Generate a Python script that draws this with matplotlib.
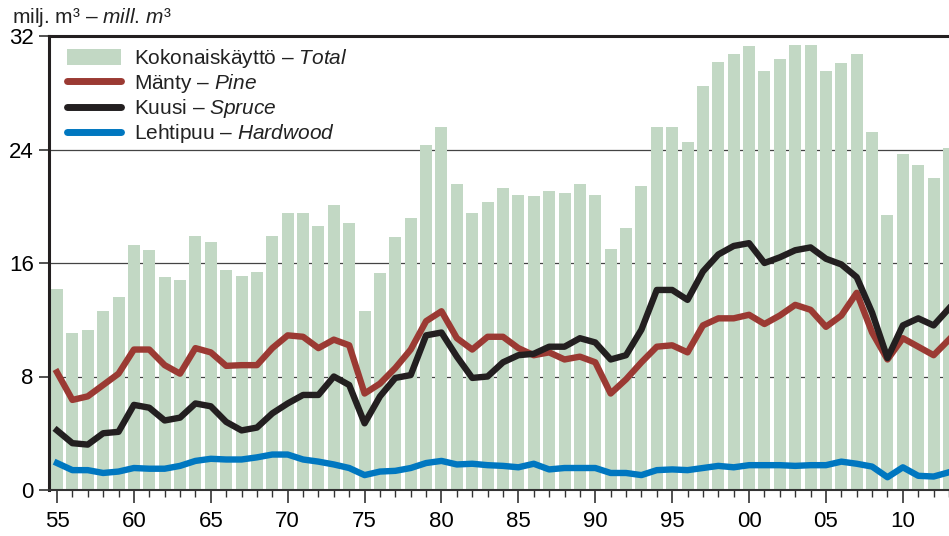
#!/usr/bin/env python3

"""
Puun käyttö 1955-2013, kokonaiskäyttö ja puulajit
"""

import matplotlib
matplotlib.use('Agg')
import matplotlib.pyplot as plt
from matplotlib.patches import Patch
from matplotlib.lines import Line2D
from matplotlib import ticker

years = list(range(1955, 2014))

total = [14.2, 11.1, 11.3, 12.6, 13.6, 17.3, 16.9, 15.0, 14.8, 17.9,
         17.5, 15.5, 15.1, 15.4, 17.9, 19.5, 19.5, 18.6, 20.1, 18.8,
         12.6, 15.3, 17.8, 19.2, 24.3, 25.6, 21.6, 19.5, 20.3, 21.3,
         20.8, 20.7, 21.1, 20.9, 21.6, 20.8, 17.0, 18.5, 21.4, 25.6,
         25.6, 24.5, 28.5, 30.2, 30.7, 31.3, 29.5, 30.4, 31.4, 31.4,
         29.5, 30.1, 30.7, 25.2, 19.4, 23.7, 22.9, 22.0, 24.1]

pine = [8.3, 6.35, 6.6, 7.4, 8.2, 9.9, 9.9, 8.8, 8.2, 10.0,
        9.7, 8.75, 8.8, 8.8, 10.0, 10.9, 10.8, 10.0, 10.6, 10.2,
        6.8, 7.5, 8.6, 9.9, 11.9, 12.6, 10.7, 9.9, 10.8, 10.8,
        10.0, 9.5, 9.7, 9.2, 9.4, 9.0, 6.8, 7.8, 9.0, 10.1,
        10.2, 9.7, 11.6, 12.1, 12.1, 12.35, 11.7, 12.3, 13.05, 12.7,
        11.5, 12.3, 13.9, 11.1, 9.2, 10.7, 10.1, 9.5, 10.6]

spruce = [4.2, 3.3, 3.2, 4.0, 4.1, 6.0, 5.8, 4.9, 5.1, 6.1,
          5.9, 4.8, 4.2, 4.4, 5.4, 6.1, 6.7, 6.7, 8.0, 7.4,
          4.7, 6.6, 7.9, 8.1, 10.9, 11.1, 9.4, 7.9, 8.0, 9.0,
          9.5, 9.6, 10.1, 10.1, 10.7, 10.4, 9.2, 9.5, 11.3, 14.1,
          14.1, 13.4, 15.4, 16.6, 17.2, 17.4, 16.0, 16.4, 16.9, 17.1,
          16.3, 15.9, 15.0, 12.5, 9.3, 11.6, 12.1, 11.6, 12.8]

hardwood = [1.9, 1.4, 1.4, 1.2, 1.3, 1.55, 1.5, 1.5, 1.7, 2.05,
            2.2, 2.15, 2.15, 2.3, 2.5, 2.5, 2.15, 2.0, 1.8, 1.55,
            1.05, 1.3, 1.35, 1.55, 1.9, 2.05, 1.8, 1.85, 1.75, 1.7,
            1.6, 1.85, 1.45, 1.55, 1.55, 1.55, 1.2, 1.2, 1.05, 1.4,
            1.45, 1.4, 1.55, 1.7, 1.6, 1.75, 1.75, 1.75, 1.7, 1.75,
            1.75, 2.0, 1.85, 1.65, 0.9, 1.6, 1.0, 0.95, 1.25]

yticks = [0, 8, 16, 24, 32]
xticks = [1955, 1960, 1965, 1970, 1975, 1980, 1985, 1990, 1995, 2000, 2005, 2010]
xtick_labels = ['55', '60', '65', '70', '75', '80', '85', '90', '95', '00', '05', '10']

BAR = '#c2d8c4'
RED = '#9b3a33'
BLACK = '#231f20'
BLUE = '#0077c0'


def main():
    plt.rcParams['font.family'] = ['Liberation Sans', 'DejaVu Sans']
    plt.rcParams['font.size'] = 15
    plt.rcParams['mathtext.fontset'] = 'custom'
    plt.rcParams['mathtext.rm'] = 'Liberation Sans'
    plt.rcParams['mathtext.it'] = 'Liberation Sans:italic'

    fig = plt.figure(figsize=(9.49, 5.36), dpi=100)
    ax = fig.add_axes([49 / 949, 46 / 536, 1 - 49 / 949, (490 - 36) / 536])

    ax.bar(years, total, width=0.78, color=BAR, zorder=1)
    lw = 4.6
    ax.plot(years, pine, color=RED, lw=lw, zorder=3, solid_joinstyle='round')
    ax.plot(years, spruce, color=BLACK, lw=lw, zorder=4, solid_joinstyle='round')
    ax.plot(years, hardwood, color=BLUE, lw=lw, zorder=3, solid_joinstyle='round')

    ax.set_xlim(1954.48, 2013.0)
    ax.set_ylim(0, 32)
    ax.set_yticks(yticks)
    ax.set_xticks(xticks)
    ax.set_xticklabels(xtick_labels)
    ax.xaxis.set_minor_locator(ticker.MultipleLocator(1))
    ax.tick_params(axis='x', which='major', direction='out', length=9, width=1.2,
                   color='#333333', pad=6, labelsize=16)
    ax.tick_params(axis='x', which='minor', direction='out', length=5, width=1.0,
                   color='#333333')
    ax.tick_params(axis='y', direction='out', length=7, width=1.2, color='#333333',
                   pad=4, labelsize=16)

    ax.grid(axis='y', color='#444444', lw=0.9, zorder=0)
    ax.set_axisbelow(True)

    for s in ['left', 'top']:
        ax.spines[s].set_linewidth(2.2)
        ax.spines[s].set_color(BLACK)
    ax.spines['bottom'].set_linewidth(1.5)
    ax.spines['bottom'].set_color('#333333')
    ax.spines['right'].set_visible(False)

    fig.text(12 / 949, 1 - 23 / 536, r'milj. m³ – $\mathit{mill.\,m³}$',
             va='baseline', ha='left', fontsize=15, color='#222222')

    handles = [Patch(facecolor=BAR, edgecolor='none'),
               Line2D([], [], color=RED, lw=5, solid_capstyle='round'),
               Line2D([], [], color=BLACK, lw=5, solid_capstyle='round'),
               Line2D([], [], color=BLUE, lw=5, solid_capstyle='round')]
    labels = [r'Kokonaiskäyttö – $\mathit{Total}$',
              r'Mänty – $\mathit{Pine}$',
              r'Kuusi – $\mathit{Spruce}$',
              r'Lehtipuu – $\mathit{Hardwood}$']
    leg = ax.legend(handles, labels, loc='upper left', bbox_to_anchor=(0.004, 1.008),
                    frameon=False, handlelength=2.6, handleheight=0.8,
                    handletextpad=0.6, labelspacing=0.1, borderaxespad=0.3)
    for t in leg.get_texts():
        t.set_color('#222222')

    fig.savefig('out.png', dpi=100)


if __name__ == '__main__':
    main()
